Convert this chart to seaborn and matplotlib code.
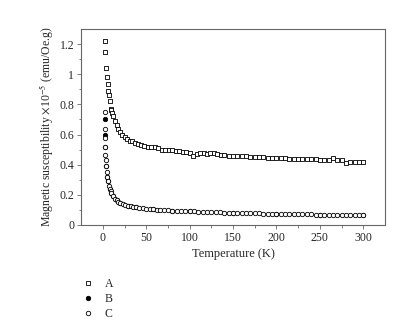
import matplotlib
matplotlib.use("Agg")
import matplotlib.pyplot as plt
from matplotlib.lines import Line2D
import seaborn as sns
import pandas as pd

# ---- data ----
temp_a = [2, 3, 4, 5, 5.5, 6, 7, 8, 9, 10, 11, 12, 14, 16, 18, 20, 22, 25, 28, 31,
          34, 37, 40, 44, 48, 52, 56, 60, 64, 68, 72, 76, 80, 84, 88, 92, 96, 100,
          104, 108, 112, 116, 120, 124, 128, 132, 136, 140, 145, 150, 155, 160, 165,
          170, 175, 180, 185, 190, 195, 200, 205, 210, 215, 220, 225, 230, 235, 240,
          245, 250, 255, 260, 265, 270, 275, 280, 285, 290, 295, 300]
chi_a = [1.22, 1.15, 1.045, 0.985, 0.935, 0.89, 0.86, 0.825, 0.77, 0.765, 0.74, 0.72,
         0.69, 0.665, 0.64, 0.615, 0.60, 0.585, 0.57, 0.56, 0.555, 0.545, 0.54, 0.53,
         0.525, 0.52, 0.515, 0.515, 0.51, 0.50, 0.50, 0.495, 0.50, 0.49, 0.49, 0.485,
         0.485, 0.48, 0.46, 0.47, 0.48, 0.475, 0.47, 0.48, 0.475, 0.47, 0.465, 0.465,
         0.46, 0.46, 0.455, 0.455, 0.455, 0.45, 0.45, 0.45, 0.448, 0.447, 0.445, 0.445,
         0.443, 0.442, 0.44, 0.44, 0.438, 0.437, 0.436, 0.435, 0.435, 0.433, 0.432,
         0.432, 0.445, 0.432, 0.428, 0.41, 0.42, 0.42, 0.42, 0.418]

temp_b = [2, 2, 3, 4, 5, 6, 8, 10, 12, 16, 20, 29, 38, 58, 80, 100, 150, 200, 250, 300]
chi_b = [0.705, 0.598, 0.515, 0.39, 0.32, 0.29, 0.24, 0.21, 0.19, 0.165, 0.148, 0.128,
         0.117, 0.104, 0.095, 0.09, 0.08, 0.073, 0.068, 0.064]

temp_c = [2, 2, 2.5, 3, 3, 3.5, 4, 4.5, 5, 6, 7, 8, 9, 10, 12, 14, 16, 18, 20, 23, 26,
          29, 32, 35, 38, 42, 46, 50, 54, 58, 62, 66, 70, 75, 80, 85, 90, 95, 100, 105,
          110, 115, 120, 125, 130, 135, 140, 145, 150, 155, 160, 165, 170, 175, 180,
          185, 190, 195, 200, 205, 210, 215, 220, 225, 230, 235, 240, 245, 250, 255,
          260, 265, 270, 275, 280, 285, 290, 295, 300]
chi_c = [0.75, 0.64, 0.575, 0.515, 0.465, 0.43, 0.39, 0.35, 0.32, 0.29, 0.26, 0.24,
         0.225, 0.21, 0.19, 0.175, 0.165, 0.155, 0.148, 0.14, 0.133, 0.128, 0.124,
         0.12, 0.117, 0.114, 0.111, 0.108, 0.106, 0.104, 0.102, 0.10, 0.099, 0.097,
         0.095, 0.094, 0.093, 0.091, 0.09, 0.089, 0.088, 0.087, 0.086, 0.085, 0.084,
         0.083, 0.082, 0.081, 0.08, 0.079, 0.079, 0.078, 0.077, 0.076, 0.076, 0.075,
         0.074, 0.074, 0.073, 0.072, 0.072, 0.071, 0.071, 0.07, 0.07, 0.069, 0.069,
         0.068, 0.068, 0.067, 0.067, 0.066, 0.066, 0.065, 0.065, 0.065, 0.064, 0.064,
         0.064]

series_names = ["A", "B", "C"]
x_ticks = [0, 50, 100, 150, 200, 250, 300]
y_ticks = [0, 0.2, 0.4, 0.6, 0.8, 1.0, 1.2]
y_tick_labels = ["0", "0.2", "0.4", "0.6", "0.8", "1", "1.2"]

# ---- style ----
sns.set_style("ticks")
plt.rcParams["font.family"] = ["Liberation Serif", "DejaVu Serif"]
plt.rcParams["mathtext.fontset"] = "stix"

fig = plt.figure(figsize=(4.18, 3.24), dpi=100)
ax = fig.add_axes([0.194, 0.306, 0.727, 0.604])

spine_col = "#666666"
ms = 10
lw = 0.6
fs = 8.5

dfa = pd.DataFrame({"T": temp_a, "chi": chi_a})
dfb = pd.DataFrame({"T": temp_b, "chi": chi_b})
dfc = pd.DataFrame({"T": temp_c, "chi": chi_c})

sns.scatterplot(data=dfa, x="T", y="chi", marker="s", s=ms, facecolor="white",
                edgecolor="black", linewidth=lw, ax=ax, zorder=3)
sns.scatterplot(data=dfb, x="T", y="chi", marker="o", s=ms, color="black",
                edgecolor="black", linewidth=lw, ax=ax, zorder=3)
sns.scatterplot(data=dfc, x="T", y="chi", marker="o", s=ms, facecolor="white",
                edgecolor="black", linewidth=lw, ax=ax, zorder=4)

ax.set_xlim(-25, 325)
ax.set_ylim(0, 1.3)
ax.set_xticks(x_ticks)
ax.set_xticks([25, 75, 125, 175, 225, 275], minor=True)
ax.set_yticks(y_ticks)
ax.set_yticklabels(y_tick_labels)
ax.set_yticks([0.1, 0.3, 0.5, 0.7, 0.9, 1.1], minor=True)
ax.tick_params(axis="both", which="major", length=3, width=0.6, color=spine_col,
               labelsize=fs, pad=2)
ax.tick_params(axis="both", which="minor", length=1.8, width=0.6, color=spine_col)
for sp in ax.spines.values():
    sp.set_color(spine_col)
    sp.set_linewidth(0.8)

ax.set_xlabel("Temperature (K)", fontsize=fs + 0.5, labelpad=3)
ax.set_ylabel(r"Magnetic susceptibility $\times$10$^{-5}$ (emu/Oe.g)", fontsize=fs,
              labelpad=3)

handles = [
    Line2D([], [], linestyle="none", marker="s", markersize=3.2, markerfacecolor="white",
           markeredgecolor="black", markeredgewidth=lw),
    Line2D([], [], linestyle="none", marker="o", markersize=3.2, markerfacecolor="black",
           markeredgecolor="black", markeredgewidth=lw),
    Line2D([], [], linestyle="none", marker="o", markersize=3.2, markerfacecolor="white",
           markeredgecolor="black", markeredgewidth=lw),
]
fig.legend(handles, series_names, loc="upper left", bbox_to_anchor=(0.18, 0.16),
           frameon=False, fontsize=fs, handlelength=1.2, handletextpad=0.8,
           labelspacing=0.25, borderpad=0)

fig.savefig("out.png", dpi=100)
